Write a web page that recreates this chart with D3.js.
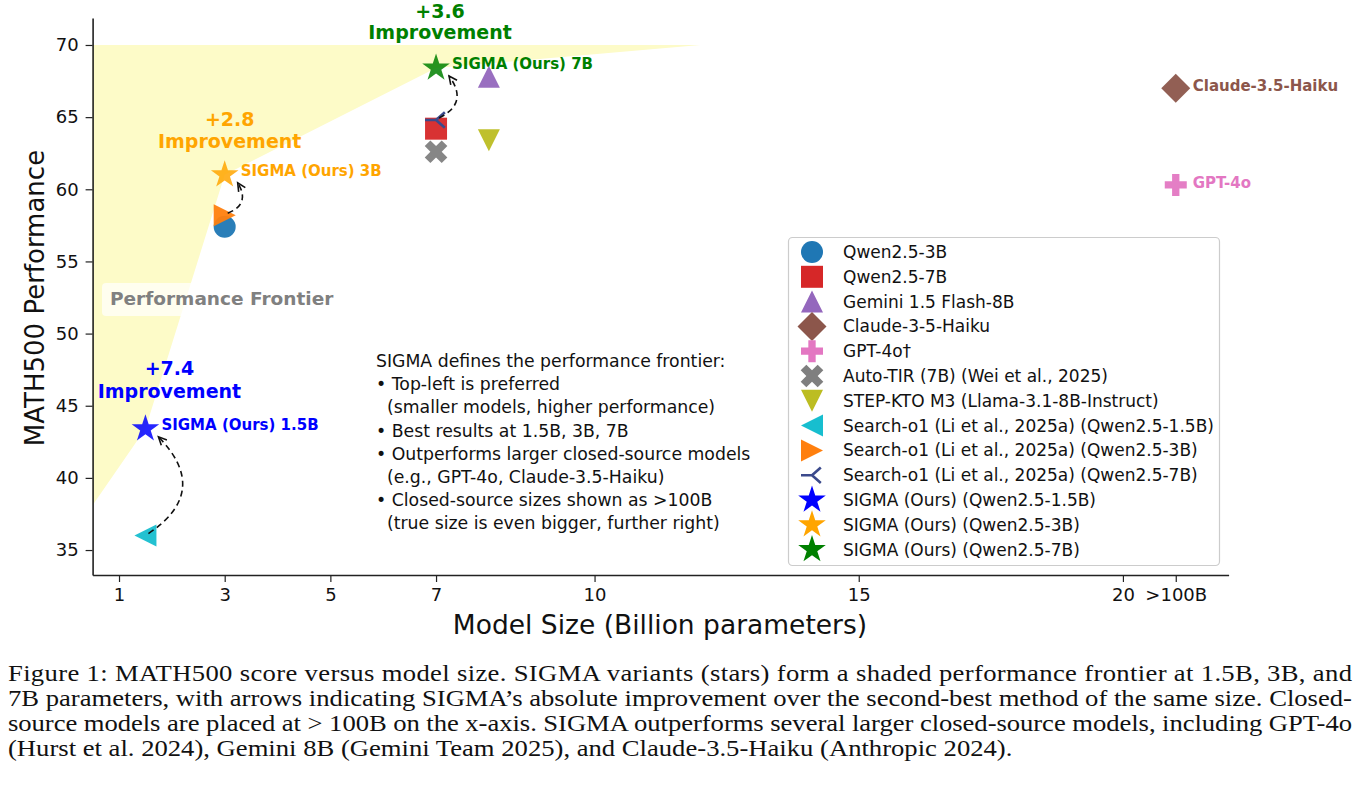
<!DOCTYPE html>
<html>
<head>
<meta charset="utf-8">
<script src="https://cdn.jsdelivr.net/npm/d3@7"></script>
<style>
  body { margin: 0; background: #fff; }
  svg { display: block; }
</style>
</head>
<body>
<script>
// MATH500 vs model size, SIGMA frontier figure

const modelNames = [
  "Qwen2.5-3B", "Qwen2.5-7B", "Gemini 1.5 Flash-8B", "Claude-3-5-Haiku", "GPT-4o\u2020",
  "Auto-TIR (7B) (Wei et al., 2025)", "STEP-KTO M3 (Llama-3.1-8B-Instruct)",
  "Search-o1 (Li et al., 2025a) (Qwen2.5-1.5B)", "Search-o1 (Li et al., 2025a) (Qwen2.5-3B)",
  "Search-o1 (Li et al., 2025a) (Qwen2.5-7B)",
  "SIGMA (Ours) (Qwen2.5-1.5B)", "SIGMA (Ours) (Qwen2.5-3B)", "SIGMA (Ours) (Qwen2.5-7B)"
];
const modelSizes = [3, 7, 8, 21, 21, 7, 8, 1.5, 3, 7, 1.5, 3, 7];   // 21 = ">100B" slot
const mathScores = [57.4, 64.2, 67.8, 67.0, 60.3, 62.6, 63.4, 36.0, 58.2, 64.8, 43.4, 61.0, 68.4];

const xTickValues = [1, 3, 5, 7, 10, 15, 20, 21];
const xTickLabels = ["1", "3", "5", "7", "10", "15", "20", ">100B"];
const yTickValues = [35, 40, 45, 50, 55, 60, 65, 70];

// which search-o1 point each SIGMA star improves on
const sigmaIdx = [10, 11, 12];
const baseIdx = [7, 8, 9];
const sigmaLabels = ["SIGMA (Ours) 1.5B", "SIGMA (Ours) 3B", "SIGMA (Ours) 7B"];
const closedIdx = [3, 4];
const closedLabels = ["Claude-3.5-Haiku", "GPT-4o"];

// frontier polygon corners (outside the stars)
const frontierLeft = [0.5, 38.1];
const frontierRight = [12, 70];

const infoLines = [
  "SIGMA defines the performance frontier:",
  "\u2022 Top-left is preferred",
  "  (smaller models, higher performance)",
  "\u2022 Best results at 1.5B, 3B, 7B",
  "\u2022 Outperforms larger closed-source models",
  "  (e.g., GPT-4o, Claude-3.5-Haiku)",
  "\u2022 Closed-source sizes shown as >100B",
  "  (true size is even bigger, further right)"
];

const captionLines = [
  "Figure 1: MATH500 score versus model size. SIGMA variants (stars) form a shaded performance frontier at 1.5B, 3B, and",
  "7B parameters, with arrows indicating SIGMA\u2019s absolute improvement over the second-best method of the same size. Closed-",
  "source models are placed at > 100B on the x-axis. SIGMA outperforms several larger closed-source models, including GPT-4o",
  "(Hurst et al. 2024), Gemini 8B (Gemini Team 2025), and Claude-3.5-Haiku (Anthropic 2024)."
];

// styles
const markerShape = ["circle", "square", "triUp", "diamond", "plus", "xfill", "triDown",
                     "triLeft", "triRight", "tri3", "star", "star", "star"];
const markerColor = ["#1f77b4", "#d62728", "#9467bd", "#8c564b", "#e377c2", "#7f7f7f", "#bcbd22",
                     "#17becf", "#ff7f0e", "#3b4a8c", "#0000ff", "#ffa500", "#008000"];
const sigmaTextColor = ["#0000ff", "#ffa500", "#008000"];
const annoOffset = [[24, -54, -31], [5, -49, -27], [4, -50, -29]];  // dx, dy line1, dy line2

const W = 1359, H = 785;
const FONT = "'DejaVu Sans', sans-serif";

const svg = d3.select("body").append("svg").attr("width", W).attr("height", H);

const x = d3.scaleLinear().domain([0.5, 22]).range([92.6, 1228.6]);
const y = d3.scaleLinear().domain([33.27, 71.87]).range([575, 18]);

function markerPath(kind) {
  const r = 11;
  switch (kind) {
    case "circle": return d3.symbol(d3.symbolCircle, Math.PI * r * r)();
    case "square": return `M${-r},${-r}h${2 * r}v${2 * r}h${-2 * r}Z`;
    case "triUp": return `M0,${-r}L${r},${r}L${-r},${r}Z`;
    case "triDown": return `M0,${r}L${r},${-r}L${-r},${-r}Z`;
    case "triLeft": return `M${-r},0L${r},${-r}L${r},${r}Z`;
    case "triRight": return `M${r},0L${-r},${-r}L${-r},${r}Z`;
    case "diamond": { const d = 14.5; return `M0,${-d}L${d},0L0,${d}L${-d},0Z`; }
    case "plus":
    case "xfill": {
      const h = kind === "plus" ? 11 : 12;
      const pts = [[-1, -3], [-1, -1], [-3, -1], [-3, 1], [-1, 1], [-1, 3], [1, 3], [1, 1], [3, 1], [3, -1], [1, -1], [1, -3]]
        .map(p => [p[0] * h / 3, p[1] * h / 3]);
      const rot = kind === "xfill" ? Math.PI / 4 : 0;
      return "M" + pts.map(p => [p[0] * Math.cos(rot) - p[1] * Math.sin(rot),
                                 p[0] * Math.sin(rot) + p[1] * Math.cos(rot)].join(",")).join("L") + "Z";
    }
    case "tri3": return `M0,0L${-r},0M0,0L${0.8 * r},${-0.7 * r}M0,0L${0.8 * r},${0.7 * r}`;
    case "star": {
      const R = 14.5, ri = R * 0.382;
      let p = [];
      for (let k = 0; k < 10; k++) {
        const a = -Math.PI / 2 + k * Math.PI / 5, rr = k % 2 ? ri : R;
        p.push([rr * Math.cos(a), rr * Math.sin(a)]);
      }
      return "M" + p.map(q => q.join(",")).join("L") + "Z";
    }
  }
}

function drawMarker(g, i, opacity) {
  const isLine = markerShape[i] === "tri3";
  g.append("path")
    .attr("d", markerPath(markerShape[i]))
    .attr("fill", isLine ? "none" : markerColor[i])
    .attr("fill-opacity", opacity)
    .attr("stroke", isLine ? markerColor[i] : "none")
    .attr("stroke-width", isLine ? 2.6 : 0);
}

// frontier shading
const frontierPts = [frontierLeft]
  .concat(sigmaIdx.map(i => [modelSizes[i], mathScores[i]]))
  .concat([frontierRight, [frontierLeft[0], frontierRight[1]]]);
svg.append("path")
  .attr("d", d3.line().x(d => x(d[0])).y(d => y(d[1]))(frontierPts) + "Z")
  .attr("fill", "#fdfbc8");

// axes
const xAxis = d3.axisBottom(x).tickValues(xTickValues)
  .tickFormat((d, i) => xTickLabels[i]).tickSize(7).tickPadding(6).tickSizeOuter(0);
const yAxis = d3.axisLeft(y).tickValues(yTickValues).tickSize(7).tickPadding(7).tickSizeOuter(0);

const gx = svg.append("g").attr("transform", "translate(0,575)").call(xAxis);
const gy = svg.append("g").attr("transform", "translate(92.6,0)").call(yAxis);
[gx, gy].forEach(g => {
  g.select(".domain").attr("stroke", "#222").attr("stroke-width", 1.6);
  g.selectAll(".tick line").attr("stroke", "#222").attr("stroke-width", 1.2);
  g.selectAll(".tick text").attr("font-family", FONT).attr("font-size", 18).attr("fill", "#111");
});

svg.append("text")
  .attr("x", 660).attr("y", 634).attr("text-anchor", "middle")
  .attr("font-family", FONT).attr("font-size", 26.5).attr("fill", "#111")
  .text("Model Size (Billion parameters)");
svg.append("text")
  .attr("transform", "translate(44,298) rotate(-90)").attr("text-anchor", "middle")
  .attr("font-family", FONT).attr("font-size", 26).attr("fill", "#111")
  .text("MATH500 Performance");

// frontier label
svg.append("rect").attr("x", 102).attr("y", 283).attr("width", 238).attr("height", 33)
  .attr("rx", 4).attr("fill", "#fff").attr("fill-opacity", 0.7);
svg.append("text").attr("x", 110).attr("y", 305)
  .attr("font-family", FONT).attr("font-weight", "bold").attr("font-size", 18.5).attr("fill", "#808080")
  .text("Performance Frontier");

// points (stars last so they sit on top)
d3.range(modelNames.length).forEach(i => {
  const g = svg.append("g").attr("transform", `translate(${x(modelSizes[i])},${y(mathScores[i])})`);
  drawMarker(g, i, markerShape[i] === "star" ? 0.85 : 0.95);
});

// improvement arrows
sigmaIdx.forEach((si, k) => {
  const bi = baseIdx[k];
  const p0 = [x(modelSizes[bi]) + 3, y(mathScores[bi]) - 2];
  const p2 = [x(modelSizes[si]) + 13, y(mathScores[si]) + 8];
  const mx = (p0[0] + p2[0]) / 2, my = (p0[1] + p2[1]) / 2;
  const dx = p2[0] - p0[0], dy = p2[1] - p0[1];
  const rad = 0.6;
  let c = [mx - rad * dy, my + rad * dx];
  if (c[0] < mx) c = [mx + rad * dy, my - rad * dx];
  svg.append("path")
    .attr("d", `M${p0}Q${c} ${p2}`)
    .attr("fill", "none").attr("stroke", "#111").attr("stroke-width", 1.6)
    .attr("stroke-dasharray", "6,4");
  const ang = Math.atan2(p2[1] - c[1], p2[0] - c[0]);
  const hl = 9, hw = 0.45;
  const a1 = [p2[0] - hl * Math.cos(ang - hw), p2[1] - hl * Math.sin(ang - hw)];
  const a2 = [p2[0] - hl * Math.cos(ang + hw), p2[1] - hl * Math.sin(ang + hw)];
  svg.append("path").attr("d", `M${a1}L${p2}L${a2}`)
    .attr("fill", "none").attr("stroke", "#111").attr("stroke-width", 1.6);
});

// SIGMA labels and improvement annotations
sigmaIdx.forEach((si, k) => {
  const px = x(modelSizes[si]), py = y(mathScores[si]);
  svg.append("text").attr("x", px + 16).attr("y", py + 1)
    .attr("font-family", FONT).attr("font-weight", "bold").attr("font-size", 15)
    .attr("fill", sigmaTextColor[k]).text(sigmaLabels[k]);
  const gain = (mathScores[si] - mathScores[baseIdx[k]]).toFixed(1);
  const o = annoOffset[k];
  const t = svg.append("text").attr("text-anchor", "middle")
    .attr("font-family", FONT).attr("font-weight", "bold").attr("font-size", 19)
    .attr("fill", sigmaTextColor[k]);
  t.append("tspan").attr("x", px + o[0]).attr("y", py + o[1]).text("+" + gain);
  t.append("tspan").attr("x", px + o[0]).attr("y", py + o[2]).text("Improvement");
});

// closed-source labels
closedIdx.forEach((ci, k) => {
  svg.append("text").attr("x", x(modelSizes[ci]) + 17).attr("y", y(mathScores[ci]) + 3)
    .attr("font-family", FONT).attr("font-weight", "bold").attr("font-size", 15)
    .attr("fill", markerColor[ci]).text(closedLabels[k]);
});

// info text
const info = svg.append("text").attr("font-family", FONT).attr("font-size", 17.3).attr("fill", "#111")
  .attr("xml:space", "preserve");
infoLines.forEach((s, i) => {
  info.append("tspan").attr("x", 376).attr("y", 367 + i * 23.2).text(s);
});

// legend
const lg = svg.append("g");
lg.append("rect").attr("x", 788.5).attr("y", 237.5).attr("width", 431).attr("height", 328)
  .attr("rx", 4).attr("fill", "#fff").attr("fill-opacity", 0.85)
  .attr("stroke", "#cccccc").attr("stroke-width", 1.2);
modelNames.forEach((name, i) => {
  const ly = 252 + i * 24.8;
  const g = lg.append("g").attr("transform", `translate(812,${ly})`);
  drawMarker(g, i, 1);
  lg.append("text").attr("x", 843).attr("y", ly + 6)
    .attr("font-family", FONT).attr("font-size", 17).attr("fill", "#111").text(name);
});

// caption: scaled horizontally to the width of the last (unjustified) line
const capFont = 23.5;
const capGroup = svg.append("g");
const capTexts = captionLines.map((s, i) => capGroup.append("text")
  .attr("x", 0).attr("y", 681 + i * 25)
  .attr("font-family", "'Liberation Serif', serif").attr("font-size", capFont).attr("fill", "#111")
  .text(s));
const sx = 1005 / capTexts[3].node().getComputedTextLength();
capGroup.attr("transform", `translate(8,0) scale(${sx},1)`);
capTexts.slice(0, 3).forEach(t => t.attr("textLength", 1344 / sx).attr("lengthAdjust", "spacing"));
</script>
</body>
</html>
